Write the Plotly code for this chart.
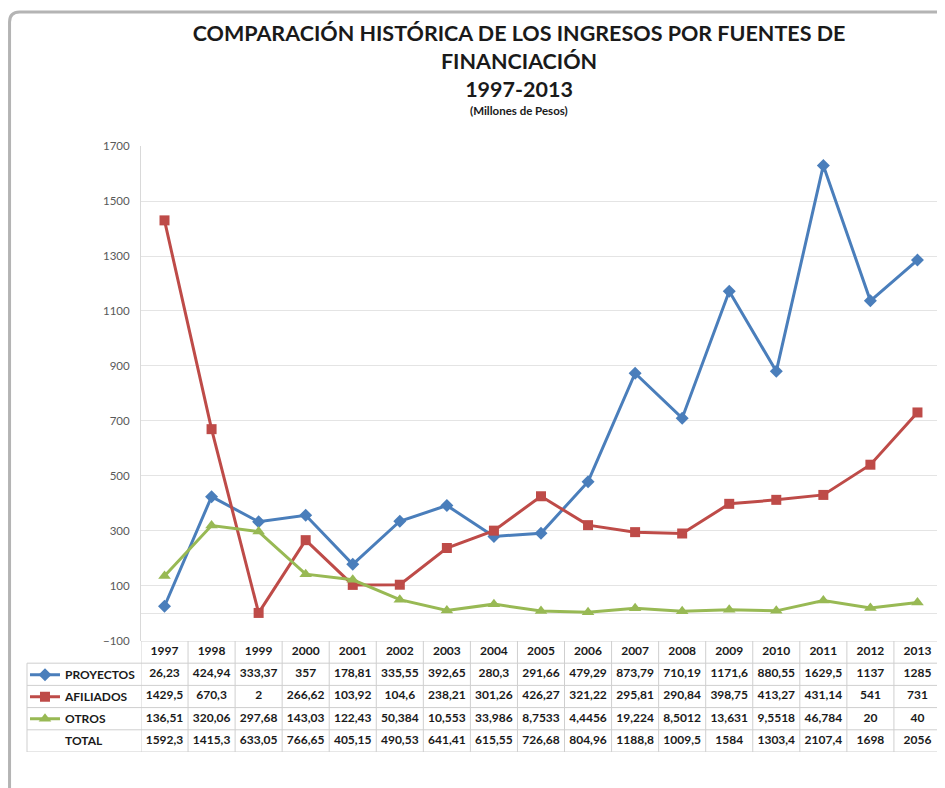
import plotly.graph_objects as go

years = [str(y) for y in range(1997, 2014)]

proyectos = [26.23, 424.94, 333.37, 357, 178.81, 335.55, 392.65, 280.3, 291.66,
             479.29, 873.79, 710.19, 1171.6, 880.55, 1629.5, 1137, 1285]
afiliados = [1429.5, 670.3, 2, 266.62, 103.92, 104.6, 238.21, 301.26, 426.27,
             321.22, 295.81, 290.84, 398.75, 413.27, 431.14, 541, 731]
otros = [136.51, 320.06, 297.68, 143.03, 122.43, 50.384, 10.553, 33.986, 8.7533,
         4.4456, 19.224, 8.5012, 13.631, 9.5518, 46.784, 20, 40]
total = [1592.3, 1415.3, 633.05, 766.65, 405.15, 490.53, 641.41, 615.55, 726.68,
         804.96, 1188.8, 1009.5, 1584, 1303.4, 2107.4, 1698, 2056]

series = [
    ("PROYECTOS", proyectos, "#4A7EBB", "diamond", 10),
    ("AFILIADOS", afiliados, "#BE4B48", "square", 10),
    ("OTROS", otros, "#98B954", "triangle-up", 11),
]

FONT = "Lato"
GRID = "#cfcfcf"
TSIZE = 12


def fmt(v):
    return f"{v:g}".replace(".", ",")


fig = go.Figure()

for name, vals, color, symbol, size in series:
    fig.add_trace(go.Scatter(
        x=years, y=vals, name=f"<b>{name}</b>", mode="lines+markers",
        legendgroup=name,
        line=dict(color=color, width=3),
        marker=dict(symbol=symbol, size=size, color=color),
    ))

# data table under the chart: row 0 = years, rows 1..4 = values
table_rows = [None, proyectos, afiliados, otros, total]
for r, vals in enumerate(table_rows):
    txt = years if vals is None else [fmt(v) for v in vals]
    fig.add_trace(go.Scatter(
        x=years, y=[r] * len(years), yaxis="y2",
        mode="text", text=[f"<b>{t}</b>" for t in txt],
        textposition="middle center",
        textfont=dict(family=FONT, size=TSIZE, color="#1a1a1a"),
        showlegend=False, hoverinfo="skip",
    ))

shapes = []
# horizontal table lines
for k in range(len(table_rows) + 1):
    shapes.append(dict(
        type="line", xref="paper", yref="y2",
        x0=0 if k > 0 else 0.1247, x1=1, y0=k - 0.5, y1=k - 0.5,
        line=dict(color=GRID, width=1),
    ))
# vertical table lines
for i in range(len(years) + 1):
    shapes.append(dict(
        type="line", xref="x", yref="y2",
        x0=i - 0.5, x1=i - 0.5, y0=-0.5, y1=len(table_rows) - 0.5,
        line=dict(color=GRID, width=1),
    ))
shapes.append(dict(
    type="line", xref="paper", yref="y2",
    x0=0, x1=0, y0=0.5, y1=len(table_rows) - 0.5,
    line=dict(color=GRID, width=1),
))
# outer frame
shapes.append(dict(
    type="path", xref="paper", yref="paper",
    path="M -0.0191 -0.1 L -0.0191 1.2045 Q -0.0191 1.2211 -0.008 1.2211 L 1.01 1.2211",
    line=dict(color="#b4b4b4", width=3),
))

fig.update_layout(
    width=937, height=780,
    margin=dict(l=19, r=4, t=138, b=36),
    paper_bgcolor="white", plot_bgcolor="white",
    font=dict(family=FONT, color="#404040"),
    title=dict(
        text=("<b>COMPARACIÓN HISTÓRICA DE LOS INGRESOS POR FUENTES DE<br>"
              "FINANCIACIÓN<br>1997-2013</b>"),
        x=0.5454, xref="container", xanchor="center",
        y=0.958, yref="container", yanchor="top",
        font=dict(family=FONT, size=21.5, color="#1a1a1a"),
    ),
    annotations=[
        dict(text="<b>(Millones de Pesos)</b>", xref="paper", yref="paper",
             x=0.5454 * 937 / 914 - 19 / 914, y=1.0578, showarrow=False,
             xanchor="center", yanchor="middle",
             font=dict(family=FONT, size=11.5, color="#1a1a1a")),
        dict(text="<b>TOTAL</b>", xref="paper", yref="y2",
             x=0.0394, y=4, showarrow=False, xanchor="left", yanchor="middle",
             font=dict(family=FONT, size=TSIZE, color="#1a1a1a")),
    ],
    showlegend=True,
    legend=dict(
        x=-0.0022, xanchor="left", y=0.1515, yanchor="top",
        bgcolor="rgba(0,0,0,0)", borderwidth=0,
        tracegroupgap=3, itemwidth=30,
        font=dict(family=FONT, size=TSIZE, color="#1a1a1a"),
    ),
    xaxis=dict(
        domain=[0.1247, 1], type="category", range=[-0.5, 16.5],
        showticklabels=False, showgrid=False, zeroline=False,
    ),
    yaxis=dict(
        domain=[0.1832, 1], range=[-100, 1700], dtick=200, tick0=-100,
        showgrid=True, gridcolor="#e4e4e4", gridwidth=1,
        zeroline=True, zerolinecolor="#e4e4e4", zerolinewidth=1,
        showline=True, linecolor="#d9d9d9", linewidth=1,
        tickfont=dict(family=FONT, size=11.5, color="#595959"),
        ticks="", ticklabelstandoff=8,
    ),
    yaxis2=dict(
        domain=[0, 0.1832], range=[len(table_rows) - 0.5, -0.5],
        showticklabels=False, showgrid=False, zeroline=False, fixedrange=True,
    ),
    shapes=shapes,
)

fig.write_html("out.html")
